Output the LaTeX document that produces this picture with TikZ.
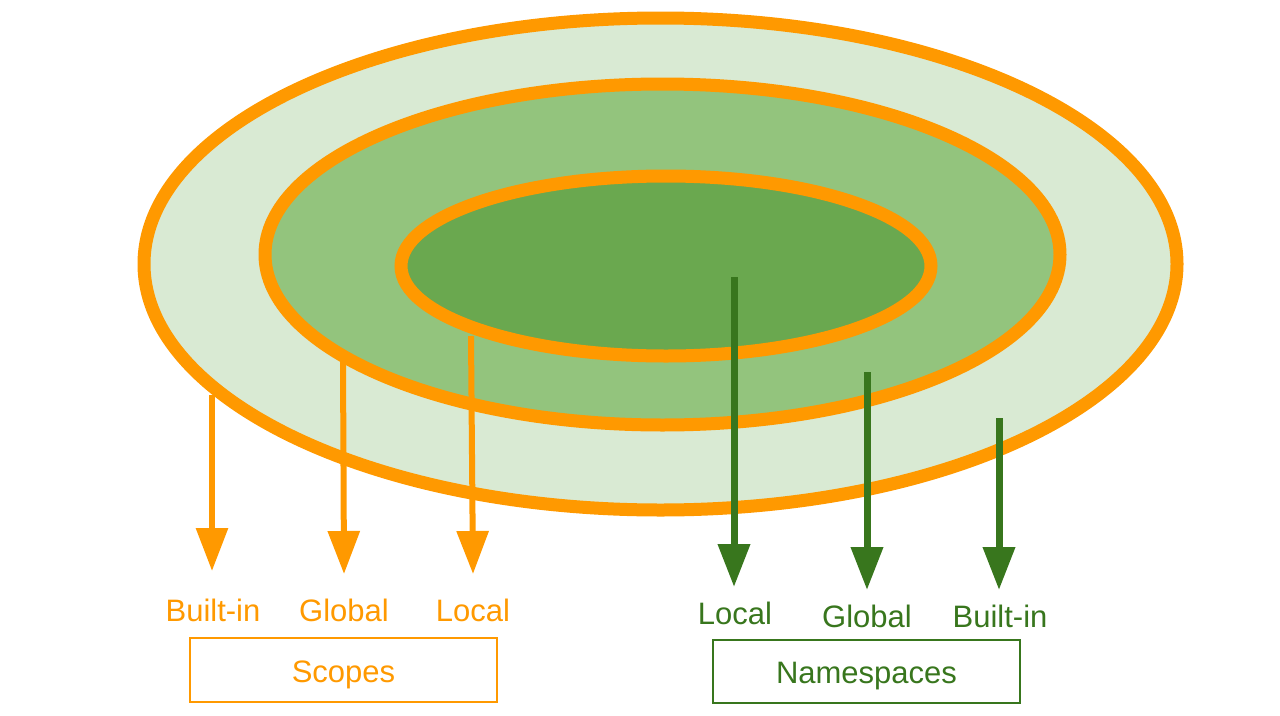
\documentclass[tikz,border=0pt]{standalone}
\usepackage{fontspec}
\setmainfont{Liberation Sans}
\usetikzlibrary{arrows.meta}
\definecolor{orng}{HTML}{FF9900}
\definecolor{dgreen}{HTML}{38761D}
\definecolor{lgreen}{HTML}{D9EAD3}
\definecolor{mgreen}{HTML}{93C47D}
\definecolor{igreen}{HTML}{6AA84F}
\tikzset{
  ring/.style={draw=orng, line width=13pt},
  oarrow/.style={draw=orng, line width=6pt, -{Triangle[length=43pt,width=31pt]}},
  garrow/.style={draw=dgreen, line width=7pt, -{Triangle[length=43pt,width=31pt]}},
  olabel/.style={text=orng, font=\fontsize{31}{36}\selectfont, inner sep=0pt, anchor=base},
  glabel/.style={text=dgreen, font=\fontsize{31}{36}\selectfont, inner sep=0pt, anchor=base},
  obox/.style={draw=orng, line width=1.5pt, minimum width=307pt, minimum height=64pt},
  gbox/.style={draw=dgreen, line width=1.5pt, minimum width=307pt, minimum height=63pt},
}
\begin{document}
\begin{tikzpicture}[x=1pt, y=-1pt]
\useasboundingbox (0,0) rectangle (1280,715);
% rings
\draw[ring, fill=lgreen] (660.5,264) ellipse [x radius=516.5, y radius=246];
\draw[ring, fill=mgreen] (662.5,254.5) ellipse [x radius=397.5, y radius=170.5];
\draw[ring, fill=igreen] (666,266) ellipse [x radius=265, y radius=90];
% arrow coordinates
\coordinate (sb0) at (212,395);  \coordinate (sb1) at (212,571);
\coordinate (sg0) at (343,360);  \coordinate (sg1) at (344,574);
\coordinate (sl0) at (471,336);  \coordinate (sl1) at (473,574);
\coordinate (nl0) at (734,277);  \coordinate (nl1) at (734,587);
\coordinate (ng0) at (867,372);  \coordinate (ng1) at (867,590);
\coordinate (nb0) at (999,418);  \coordinate (nb1) at (999,590);
\draw[oarrow] (sb0) -- (sb1);
\draw[oarrow] (sg0) -- (sg1);
\draw[oarrow] (sl0) -- (sl1);
\draw[garrow] (nl0) -- (nl1);
\draw[garrow] (ng0) -- (ng1);
\draw[garrow] (nb0) -- (nb1);
% labels
\node[olabel] (lsb) at (213,621) {Built-in};
\node[olabel] (lsg) at (344,621) {Global};
\node[olabel] (lsl) at (473,621) {Local};
\node[glabel] (lnl) at (735,624) {Local};
\node[glabel] (lng) at (867,627) {Global};
\node[glabel] (lnb) at (1000,627) {Built-in};
\node[obox] (scopes) at (343.5,670) {};
\node[olabel] (scopest) at (343.5,682) {Scopes};
\node[gbox] (names) at (866.5,671.5) {};
\node[glabel] (namest) at (866.5,683) {Namespaces};
\end{tikzpicture}
\end{document}
